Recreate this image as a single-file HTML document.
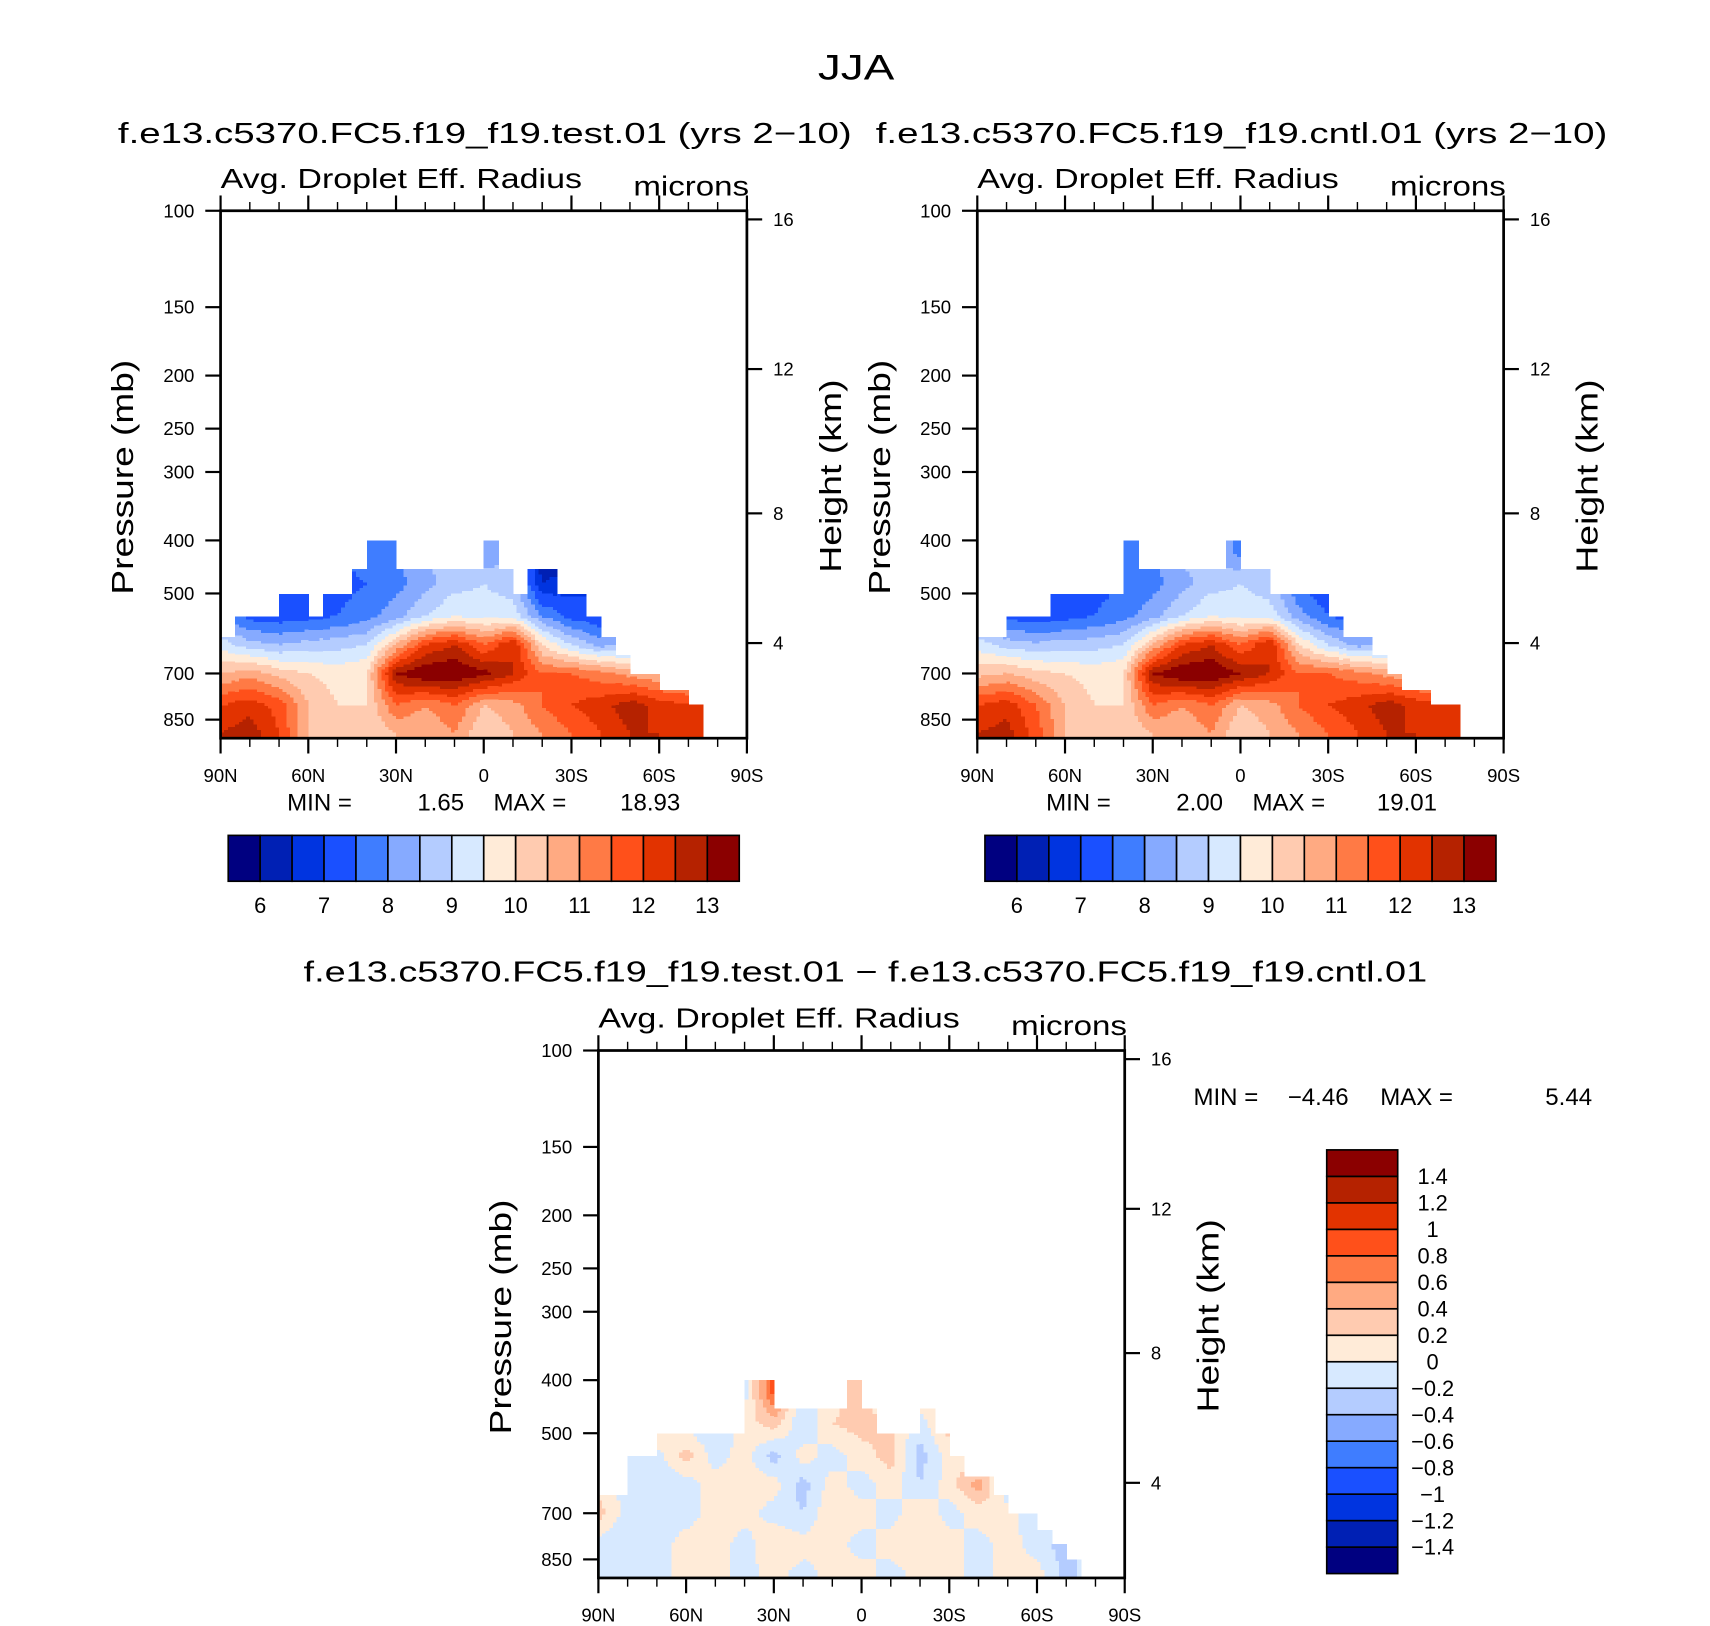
<!DOCTYPE html>
<html><head><meta charset="utf-8"><style>
html,body{margin:0;padding:0;background:#fff;}
svg{display:block;}
text{font-family:"Liberation Sans",Arial,sans-serif;fill:#000;}
</style></head><body>
<svg id="fig" width="1710" height="1626" viewBox="0 0 1566 1489" preserveAspectRatio="none" xmlns="http://www.w3.org/2000/svg">
<text x="784" y="73" font-size="32" text-anchor="middle" textLength="70" lengthAdjust="spacingAndGlyphs">JJA</text>
<text x="108" y="131" font-size="26" textLength="672" lengthAdjust="spacingAndGlyphs">f.e13.c5370.FC5.f19_f19.test.01 (yrs 2−10)</text>
<text x="802" y="131" font-size="26" textLength="670" lengthAdjust="spacingAndGlyphs">f.e13.c5370.FC5.f19_f19.cntl.01 (yrs 2−10)</text>
<text x="278" y="899" font-size="26" textLength="1029" lengthAdjust="spacingAndGlyphs">f.e13.c5370.FC5.f19_f19.test.01 − f.e13.c5370.FC5.f19_f19.cntl.01</text>
<g id="layer"></g>
</svg>
<script>
// ---- data ----
const lats = [90,80,70,60,50,40,30,20,10,0,-10,-20,-30,-40,-50,-60,-70,-80,-90];
const gridP = [420,480,550,620,700,800,900];
const testVals = [
 [7.5,7.5,7.5,7.5,7.5,7.8,8,8.5,8.8,8,8.5,6,6.2,6.5,7,7,7,7,7],
 [7.5,7.5,7.3,7.2,7.3,7.5,7.8,8.3,8.8,9,8.7,6.5,6.8,7,7,7,7,7,7],
 [8,7.3,7.2,7.3,7.5,7.8,8.3,9,9.5,9.3,9.3,8,7.3,7,7,7,7,7,7],
 [9.3,8.7,8.5,8.7,8.8,9,10.5,12,12.5,11.5,12.5,10,9,8.3,8.5,8.5,8.5,8.5,8.5],
 [10.5,10.8,10.3,10,9.8,10,13,13.5,13.5,13.2,12.5,11.5,11.5,11.2,10.8,10.5,10.5,10.5,10.5],
 [12,12.3,11.8,10.5,10,10,11.5,11,11.5,10.5,10.8,11.5,12,12.3,12.8,12.3,12,12,12],
 [12.5,12.8,12,10.5,10,10,10.5,10.5,11,10,10.5,11,11.5,12,12.5,12.5,12.3,12,12]
];
const cntlVals = [
 [7.5,7.5,7.5,7.3,7.3,7.6,8,8.7,8.5,7.8,8.7,7,6.5,6.5,7,7,7,7,7],
 [7.5,7.4,7.3,7.2,7.3,7.5,7.8,8.3,8.8,9,8.7,7.5,7,7,7,7,7,7,7],
 [8,7.3,7.2,7.3,7.5,7.8,8.3,9,9.5,9.3,9.3,8.2,7.5,7.2,7,7,7,7,7],
 [9.3,8.8,8.6,8.7,8.8,9,10.5,12,12.5,11.5,12.5,10,9,8.3,8.5,8.5,8.5,8.5,8.5],
 [10.3,10.5,10.2,10,9.8,10,13,13.5,13.5,13,12.5,11.5,11.5,11.2,10.8,10.5,10.5,10.5,10.5],
 [12,12.3,11.5,10.5,10,10,11.5,11,11.5,10.5,10.8,11.5,12,12.3,12.8,12.3,12,12,12],
 [12.5,12.7,11.8,10.5,10,10,10.5,10.5,11,10,10.5,11,11.5,12,12.5,12.5,12.3,12,12]
];
const diffVals = [
 [0,0,0,0,0.1,-0.1,0.9,-0.2,0.1,0.3,-0.3,0.2,0.1,0.1,0,0,0,0,0],
 [-0.1,-0.1,0.3,-0.1,-0.2,0.1,0.3,-0.2,0.2,0.3,0.2,-0.1,0.3,0.1,0,0,0,0,0],
 [-0.1,-0.1,-0.1,0.3,-0.1,0.1,-0.3,0.1,-0.1,0.1,0.3,-0.3,0.1,0.1,0,0,0,0,0],
 [0.1,-0.1,-0.2,-0.1,0.1,0.1,0.1,-0.3,0.1,-0.1,0.1,-0.2,0.1,0.5,-0.2,0,0,0,0],
 [0.3,-0.1,-0.1,-0.1,0.1,0.1,-0.1,-0.2,0.2,0.1,-0.1,0.2,-0.1,0.1,0.1,-0.2,0,0,0],
 [-0.1,-0.2,-0.1,0.1,0.1,-0.1,0.2,0.1,0.1,-0.1,0.1,0.2,0.1,-0.1,0.1,-0.1,-0.3,0,0],
 [-0.1,-0.1,-0.1,0.1,0.1,-0.1,0.1,-0.1,0.1,0.1,-0.1,0.1,0.1,-0.1,0.1,0.1,-0.3,0,0]
];
// top-of-data pressure per 5° column (0 = no data)
const testTop = [600,551,551,551,501,501,551,501,501,451,400,400,451,451,451,451,451,451,400,451,501,451,451,501,501,551,600,648,701,701,751,751,797,0,0,0];
const cntlTop = [600,600,551,551,551,501,501,501,501,501,400,451,451,451,451,451,451,400,451,451,501,501,501,501,551,600,600,648,701,751,751,797,797,0,0,0];
const diffTop = [648,648,550,550,501,501,501,501,501,501,400,400,451,451,451,451,451,400,451,501,501,501,451,501,550,600,600,648,701,701,751,797,851,0,0,0];
const absLevels = [6,6.5,7,7.5,8,8.5,9,9.5,10,10.5,11,11.5,12,12.5,13];
const absTickLabels = ['6','7','8','9','10','11','12','13'];
const diffLevels = [-1.4,-1.2,-1,-0.8,-0.6,-0.4,-0.2,0,0.2,0.4,0.6,0.8,1,1.2,1.4];
const diffTickLabels = ['−1.4','−1.2','−1','−0.8','−0.6','−0.4','−0.2','0','0.2','0.4','0.6','0.8','1','1.2','1.4'];
const colors = ['#000080','#0020b4','#0034e0','#1a50ff','#3f7dff','#86aaff','#b4ccff','#d7e9ff','#ffebd8','#ffcbb0','#ffaa82','#ff7a45','#ff501a','#e23300','#b52200','#8b0000'];
const pTicks = [100,150,200,250,300,400,500,700,850];
const hTicks = ['16','12','8','4'];
const hTickP = [103.7,194.6,357,616];
const latTicks = [90,60,30,0,-30,-60,-90];
const latTickLabels = ['90N','60N','30N','0','30S','60S','90S'];

const NS='http://www.w3.org/2000/svg';
const layer=document.getElementById('layer');
function mk(tag,attrs,parent){const e=document.createElementNS(NS,tag);for(const k in attrs)e.setAttribute(k,attrs[k]);(parent||layer).appendChild(e);return e;}
const P_BOT=919;
function makeAxes(L,T){
  const W=482,H=483;
  return {L,T,W,H,
    x:lat=>L+(90-lat)/180*W,
    y:p=>T+Math.log(p/100)/Math.log(P_BOT/100)*H};
}
function interp(vals,lat,p){
  let li=(90-lat)/10; li=Math.max(0,Math.min(17.9999,li));
  const i=Math.floor(li), fx=li-i;
  const lp=Math.log(p);
  let j=0; while(j<gridP.length-2 && lp>Math.log(gridP[j+1])) j++;
  let fy=(lp-Math.log(gridP[j]))/(Math.log(gridP[j+1])-Math.log(gridP[j]));
  fy=Math.max(0,Math.min(1,fy));
  const a=vals[j][i]*(1-fx)+vals[j][i+1]*fx;
  const b=vals[j+1][i]*(1-fx)+vals[j+1][i+1]*fx;
  return a*(1-fy)+b*fy;
}
function colorOf(v,levels){let k=0;while(k<levels.length && v>=levels[k])k++;return colors[k];}

function panel(name,L,T,vals,tops,levels){
  const ax=makeAxes(L,T);
  const g=mk('g',{});
  const field=mk('g',{'shape-rendering':'crispEdges'},g);
  
  
  for(let c=0;c<tops.length;c++){
    if(!tops[c])continue;
    for(let s=0;s<4;s++){
      const la0=90-5*c-1.25*s, la1=la0-1.25, lc=(la0+la1)/2;
      const x0=ax.x(la0), x1=ax.x(la1);
      const y0=ax.y(tops[c]), yb=ax.y(P_BOT);
      const n=Math.max(1,Math.round((yb-y0)/2.5));
      for(let r=0;r<n;r++){
        const ya=y0+(yb-y0)*r/n, yc=y0+(yb-y0)*(r+1)/n;
        const pm=100*Math.exp(((ya+yc)/2-T)/ax.H*Math.log(P_BOT/100));
        const v=interp(vals,lc,pm);
        mk('rect',{x:x0.toFixed(2),y:ya.toFixed(2),width:(x1-x0+0.6).toFixed(2),height:(yc-ya+0.6).toFixed(2),fill:colorOf(v,levels)},field);
      }
    }
  }
  const fr=mk('rect',{x:L,y:T,width:ax.W,height:ax.H,fill:'none',stroke:'#000','stroke-width':2.5},g);
  
  
  pTicks.forEach(p=>{
    const y=ax.y(p);
    mk('line',{x1:L-14,x2:L,y1:y,y2:y,stroke:'#000','stroke-width':2},g);
    const t=mk('text',{x:L-24,y:y+6,'font-size':17,'text-anchor':'end'},g);
    t.textContent=p;
    
    
  });
  hTicks.forEach((h,i)=>{
    const y=ax.y(hTickP[i]);
    mk('line',{x1:L+ax.W,x2:L+ax.W+14,y1:y,y2:y,stroke:'#000','stroke-width':2},g);
    const t=mk('text',{x:L+ax.W+24,y:y+6,'font-size':17},g);
    t.textContent=h;
    
    
  });
  for(let lat=90;lat>=-90;lat-=10){
    const x=ax.x(lat), major=(lat%30===0), len=major?14:8;
    mk('line',{x1:x,x2:x,y1:T-len,y2:T,stroke:'#000','stroke-width':major?2:1.3},g);
    mk('line',{x1:x,x2:x,y1:T+ax.H,y2:T+ax.H+len,stroke:'#000','stroke-width':major?2:1.3},g);
  }
  latTicks.forEach((lat,i)=>{
    const t=mk('text',{x:ax.x(lat),y:T+ax.H+40,'font-size':17,'text-anchor':'middle'},g);
    t.textContent=latTickLabels[i];
    
    
  });
  const a=mk('text',{x:L,y:T-21,'font-size':25,textLength:331,lengthAdjust:'spacingAndGlyphs'},g); a.textContent='Avg. Droplet Eff. Radius';
  
  
  const u=mk('text',{x:L+378,y:T-14,'font-size':25,textLength:106,lengthAdjust:'spacingAndGlyphs'},g); u.textContent='microns';
  
  
  const py=T+244;
  const pl=mk('text',{x:0,y:0,'font-size':28,'text-anchor':'middle',textLength:215,lengthAdjust:'spacingAndGlyphs',transform:`translate(${L-80},${py}) rotate(-90)`},g); pl.textContent='Pressure (mb)';
  
  
  const hl=mk('text',{x:0,y:0,'font-size':28,'text-anchor':'middle',textLength:177,lengthAdjust:'spacingAndGlyphs',transform:`translate(${L+ax.W+86},${T+243}) rotate(-90)`},g); hl.textContent='Height (km)';
  
  
  return g;
}
function minmax(g,items,y){
  items.forEach(([txt,x,anchor])=>{
    const t=mk('text',{x:x,y:y,'font-size':22,'text-anchor':anchor},g);
    t.textContent=txt;
    
    
  });
}
function hColorbar(name,L,T){
  const g=mk('g',{});
  const W=468,H=42,bw=W/16;
  for(let i=0;i<16;i++){
    const r=mk('rect',{x:L+i*bw,y:T,width:bw,height:H,fill:colors[i],stroke:'#000','stroke-width':1.5},g);
    
    
  }
  absTickLabels.forEach((lab,i)=>{
    const t=mk('text',{x:L+(1+2*i)*bw,y:T+H+29,'font-size':20,'text-anchor':'middle'},g);
    t.textContent=lab;
    
    
  });
}
function vColorbar(name,L,T){
  const g=mk('g',{});
  const W=65,H=388,bh=H/16;
  for(let i=0;i<16;i++){
    const r=mk('rect',{x:L,y:T+(15-i)*bh,width:W,height:bh,fill:colors[i],stroke:'#000','stroke-width':1.5},g);
    
    
  }
  diffLevels.forEach((lv,i)=>{
    const t=mk('text',{x:L+97,y:T+(15-i)*bh+7,'font-size':20,'text-anchor':'middle'},g);
    t.textContent=diffTickLabels[i];
    
    
  });
}
const g1=panel('test-panel',202,193,testVals,testTop,absLevels);
minmax(g1,[['MIN =',263,'start'],['1.65',425,'end'],['MAX =',452,'start'],['18.93',623,'end']],742);
hColorbar('test-colorbar',209,765);
const g2=panel('cntl-panel',895,193,cntlVals,cntlTop,absLevels);
minmax(g2,[['MIN =',958,'start'],['2.00',1120,'end'],['MAX =',1147,'start'],['19.01',1316,'end']],742);
hColorbar('cntl-colorbar',902,765);
const g3=panel('diff-panel',548,962,diffVals,diffTop,diffLevels);
minmax(g3,[['MIN =',1093,'start'],['−4.46',1235,'end'],['MAX =',1264,'start'],['5.44',1458,'end']],1012);
vColorbar('diff-colorbar',1215,1053);
</script>
</body></html>
